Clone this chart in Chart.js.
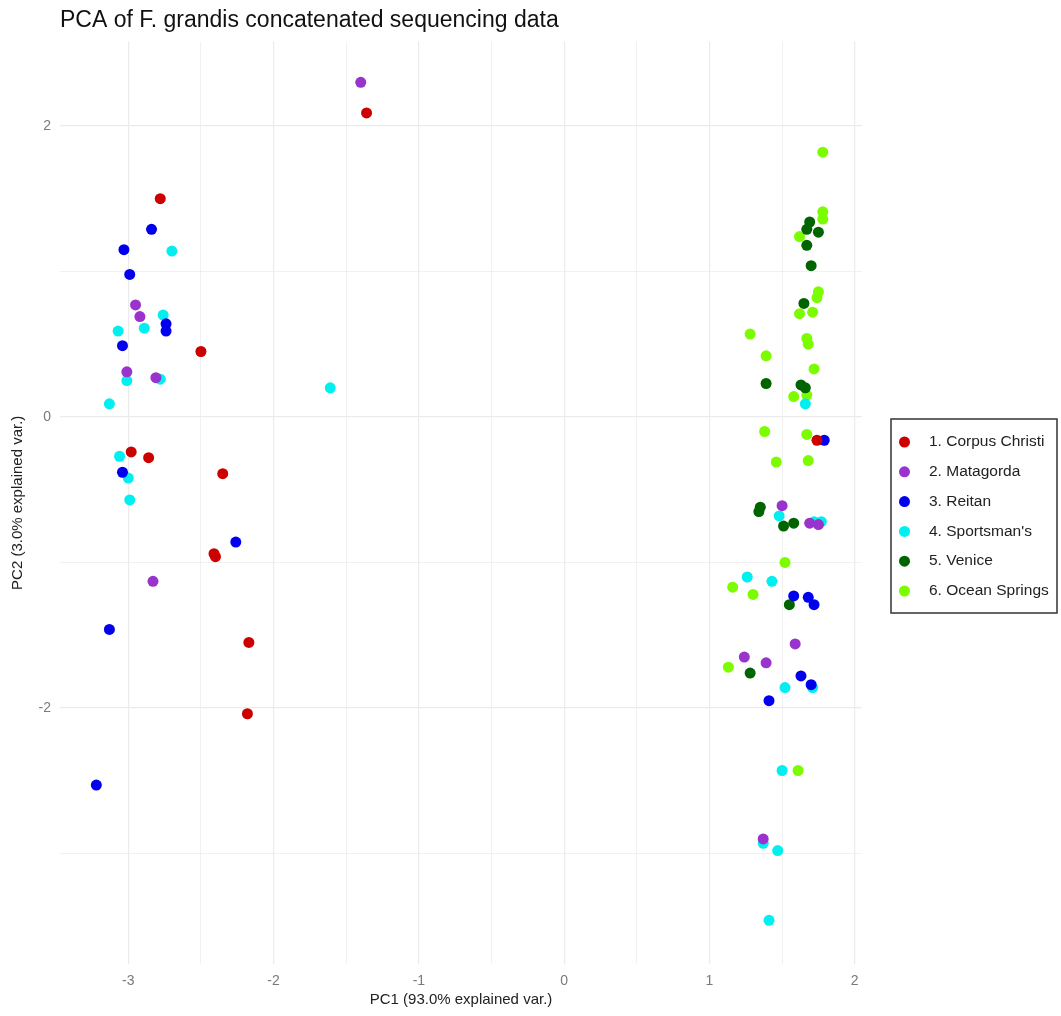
<!DOCTYPE html>
<html>
<head>
<meta charset="utf-8">
<script src="https://cdn.jsdelivr.net/npm/chart.js@4"></script>
<style>
  html, body { margin: 0; padding: 0; background: #fff; }
  #wrap { width: 1061px; height: 1016px; }
</style>
</head>
<body>
<div id="wrap"><canvas id="pcaChart"></canvas></div>
<script>
// PC1 / PC2 scores, one list per site
const groupNames = ['1. Corpus Christi', '2. Matagorda', '3. Reitan', "4. Sportsman's", '5. Venice', '6. Ocean Springs'];
const groupColors = ['#CD0000', '#9A32CD', '#0000EE', '#00F0F0', '#006400', '#7CFC00'];

const corpusChristi = [[-2.78, 1.50], [-2.50, 0.45], [-2.98, -0.24], [-2.86, -0.28], [-2.35, -0.39], [-2.41, -0.94],
  [-2.40, -0.96], [-2.17, -1.55], [-2.18, -2.04], [-1.36, 2.09], [1.74, -0.16]];
const matagorda = [[-1.40, 2.30], [-2.95, 0.77], [-2.92, 0.69], [-3.01, 0.31], [-2.81, 0.27], [-2.83, -1.13],
  [1.50, -0.61], [1.69, -0.73], [1.75, -0.74], [1.59, -1.56], [1.24, -1.65], [1.39, -1.69], [1.37, -2.90]];
const reitan = [[-2.84, 1.29], [-3.03, 1.15], [-2.99, 0.98], [-2.74, 0.64], [-2.74, 0.59], [-3.04, 0.49], [-3.04, -0.38],
  [-2.26, -0.86], [-3.13, -1.46], [-3.22, -2.53], [1.79, -0.16], [1.58, -1.23], [1.68, -1.24], [1.72, -1.29],
  [1.63, -1.78], [1.70, -1.84], [1.41, -1.95]];
const sportsmans = [[-2.70, 1.14], [-2.76, 0.70], [-2.89, 0.61], [-3.07, 0.59], [-3.01, 0.25], [-2.78, 0.26], [-3.13, 0.09],
  [-1.61, 0.20], [-3.06, -0.27], [-3.00, -0.42], [-2.99, -0.57], [1.66, 0.09], [1.48, -0.68], [1.72, -0.72],
  [1.77, -0.72], [1.26, -1.10], [1.43, -1.13], [1.71, -1.86], [1.52, -1.86], [1.50, -2.43], [1.37, -2.93],
  [1.47, -2.98], [1.41, -3.46]];
const venice = [[1.69, 1.34], [1.67, 1.29], [1.75, 1.27], [1.67, 1.18], [1.70, 1.04], [1.65, 0.78], [1.39, 0.23],
  [1.63, 0.22], [1.66, 0.20], [1.35, -0.62], [1.34, -0.65], [1.58, -0.73], [1.51, -0.75], [1.55, -1.29], [1.28, -1.76]];
const oceanSprings = [[1.78, 1.82], [1.78, 1.41], [1.78, 1.36], [1.62, 1.24], [1.75, 0.86], [1.74, 0.82], [1.62, 0.71],
  [1.71, 0.72], [1.28, 0.57], [1.67, 0.54], [1.68, 0.50], [1.39, 0.42], [1.72, 0.33], [1.58, 0.14], [1.67, 0.15],
  [1.38, -0.10], [1.67, -0.12], [1.46, -0.31], [1.68, -0.30], [1.52, -1.00], [1.16, -1.17], [1.30, -1.22],
  [1.13, -1.72], [1.61, -2.43]];

const groups = [corpusChristi, matagorda, reitan, sportsmans, venice, oceanSprings];

const xTicks = [-3, -2.5, -2, -1.5, -1, -0.5, 0, 0.5, 1, 1.5, 2];
const yTicks = [-3, -2, -1, 0, 1, 2];
const xLabelled = [-3, -2, -1, 0, 1, 2];
const yLabelled = [-2, 0, 2];

// ggplot-style boxed legend on the right
const boxedLegend = {
  id: 'boxedLegend',
  afterDraw(chart) {
    const ctx = chart.ctx;
    const left = 891, top = 419, w = 166, h = 194;
    ctx.save();
    ctx.strokeStyle = '#333';
    ctx.lineWidth = 1.5;
    ctx.strokeRect(left, top, w, h);
    ctx.font = '15.5px "Liberation Sans", Arial, sans-serif';
    ctx.textBaseline = 'middle';
    chart.data.datasets.forEach((ds, i) => {
      const y = top + 23 + i * 29.8;
      ctx.beginPath();
      ctx.arc(left + 13.5, y, 5.5, 0, Math.PI * 2);
      ctx.fillStyle = ds.backgroundColor;
      ctx.fill();
      ctx.fillStyle = '#222';
      ctx.fillText(ds.label, left + 38, y);
    });
    ctx.restore();
  }
};

const ctx = document.getElementById('pcaChart').getContext('2d');

new Chart(ctx, {
  type: 'scatter',
  data: {
    datasets: groups.map((pts, i) => ({
      label: groupNames[i],
      data: pts.map(p => ({ x: p[0], y: p[1] })),
      backgroundColor: groupColors[i],
      borderColor: groupColors[i],
      borderWidth: 0,
      pointRadius: 5.5,
      pointHoverRadius: 5.5
    }))
  },
  options: {
    responsive: true,
    maintainAspectRatio: false,
    animation: false,
    layout: { padding: { left: 0, right: 199, top: 0, bottom: 0 } },
    plugins: {
      legend: { display: false },
      tooltip: { enabled: false },
      title: {
        display: true,
        text: 'PCA of F. grandis concatenated sequencing data',
        align: 'start',
        fullSize: false,
        color: '#111',
        font: { family: '"Liberation Sans", Arial, sans-serif', size: 23, weight: 'normal' },
        padding: { top: 7, bottom: 7 }
      }
    },
    scales: {
      x: {
        type: 'linear',
        min: -3.47,
        max: 2.05,
        afterBuildTicks: axis => { axis.ticks = xTicks.map(v => ({ value: v })); },
        afterFit: axis => { axis.height = 52; },
        border: { display: false },
        grid: {
          color: '#ebebeb',
          lineWidth: c => (xLabelled.includes(c.tick.value) ? 1.2 : 0.7),
          drawTicks: false
        },
        ticks: {
          padding: 9,
          color: '#7a7a7a',
          font: { family: '"Liberation Sans", Arial, sans-serif', size: 14 },
          callback: v => (xLabelled.includes(v) ? String(v) : '')
        },
        title: {
          display: true,
          text: 'PC1 (93.0% explained var.)',
          color: '#222',
          font: { family: '"Liberation Sans", Arial, sans-serif', size: 15 },
          padding: { top: 0, bottom: 7 }
        }
      },
      y: {
        type: 'linear',
        min: -3.76,
        max: 2.58,
        afterBuildTicks: axis => { axis.ticks = yTicks.map(v => ({ value: v })); },
        afterFit: axis => { axis.width = 60; },
        border: { display: false },
        grid: {
          color: '#ebebeb',
          lineWidth: c => (yLabelled.includes(c.tick.value) ? 1.2 : 0.7),
          drawTicks: false
        },
        ticks: {
          padding: 9,
          color: '#7a7a7a',
          font: { family: '"Liberation Sans", Arial, sans-serif', size: 14 },
          callback: v => (yLabelled.includes(v) ? String(v) : '')
        },
        title: {
          display: true,
          text: 'PC2 (3.0% explained var.)',
          color: '#222',
          font: { family: '"Liberation Sans", Arial, sans-serif', size: 15 },
          padding: { top: 9, bottom: 0 }
        }
      }
    }
  },
  plugins: [boxedLegend]
});
</script>
</body>
</html>
